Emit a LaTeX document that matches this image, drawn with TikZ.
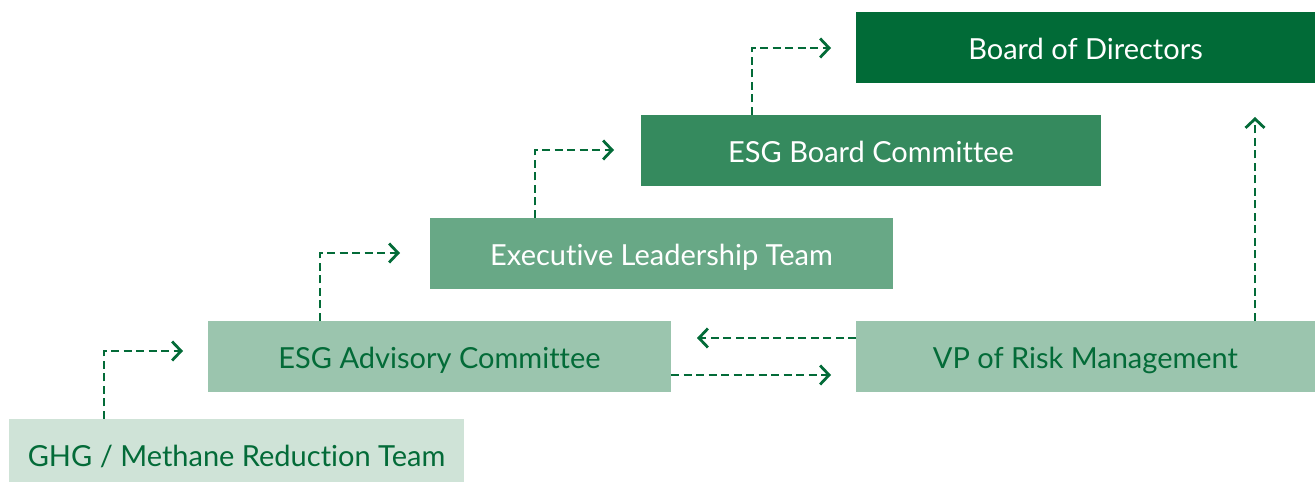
\documentclass[tikz,border=0pt]{standalone}
\usepackage{fontspec}
\setmainfont{Lato}[Ligatures=NoCommon]
\usetikzlibrary{arrows.meta}
\definecolor{gA}{HTML}{CFE3D7}
\definecolor{gB}{HTML}{9BC5AE}
\definecolor{gC}{HTML}{68A886}
\definecolor{gD}{HTML}{358A5E}
\definecolor{gE}{HTML}{016B37}
\definecolor{txt}{HTML}{036B38}
\definecolor{arrc}{HTML}{036B38}
\tikzset{
  box/.style={draw=none, inner sep=0pt, outer sep=0pt, anchor=south west,
    font=\fontsize{29}{34}\selectfont, text=txt, text height=24.5pt, text depth=0pt},
  arr/.style={draw=arrc, line width=2.8pt, dash pattern=on 8pt off 4.5pt,
    -{Straight Barb[length=9pt,width=19pt,line width=2.8pt]}},
}
\begin{document}
\begin{tikzpicture}[x=1pt,y=1pt]
\useasboundingbox (0,0) rectangle (1315,482);
\node[box, fill=gA, minimum width=455pt, minimum height=71pt] (ghg) at (9,-8) {GHG / Methane Reduction Team};
\node[box, fill=gB, minimum width=463pt, minimum height=71pt] (adv) at (208,90) {ESG Advisory Committee};
\node[box, fill=gC, minimum width=463pt, minimum height=71pt, text=white] (exe) at (430,193) {Executive Leadership Team};
\node[box, fill=gD, minimum width=460pt, minimum height=71pt, text=white] (bc) at (641,296) {ESG Board Committee};
\node[box, fill=gE, minimum width=459pt, minimum height=71pt, text=white] (bod) at (856,399) {Board of Directors};
\node[box, fill=gB, minimum width=459pt, minimum height=71pt] (vp) at (856,90) {VP of Risk Management};
\coordinate (t1) at (183,131);
\coordinate (t2) at (400,229);
\coordinate (t3) at (614,332);
\coordinate (t4) at (831,434);
\coordinate (t5) at (697,144);
\coordinate (t6) at (831,107);
\coordinate (t7) at (1255,365);
\draw[arr] ([xshift=95pt]ghg.north west) |- (t1);
\draw[arr] ([xshift=112pt]adv.north west) |- (t2);
\draw[arr] ([xshift=105pt]exe.north west) |- (t3);
\draw[arr] ([xshift=111pt]bc.north west) |- (t4);
\draw[arr] (vp.west |- t5) -- (t5);
\draw[arr] (adv.east |- t6) -- (t6);
\draw[arr] (vp.north -| t7) -- (t7);
\end{tikzpicture}
\end{document}
